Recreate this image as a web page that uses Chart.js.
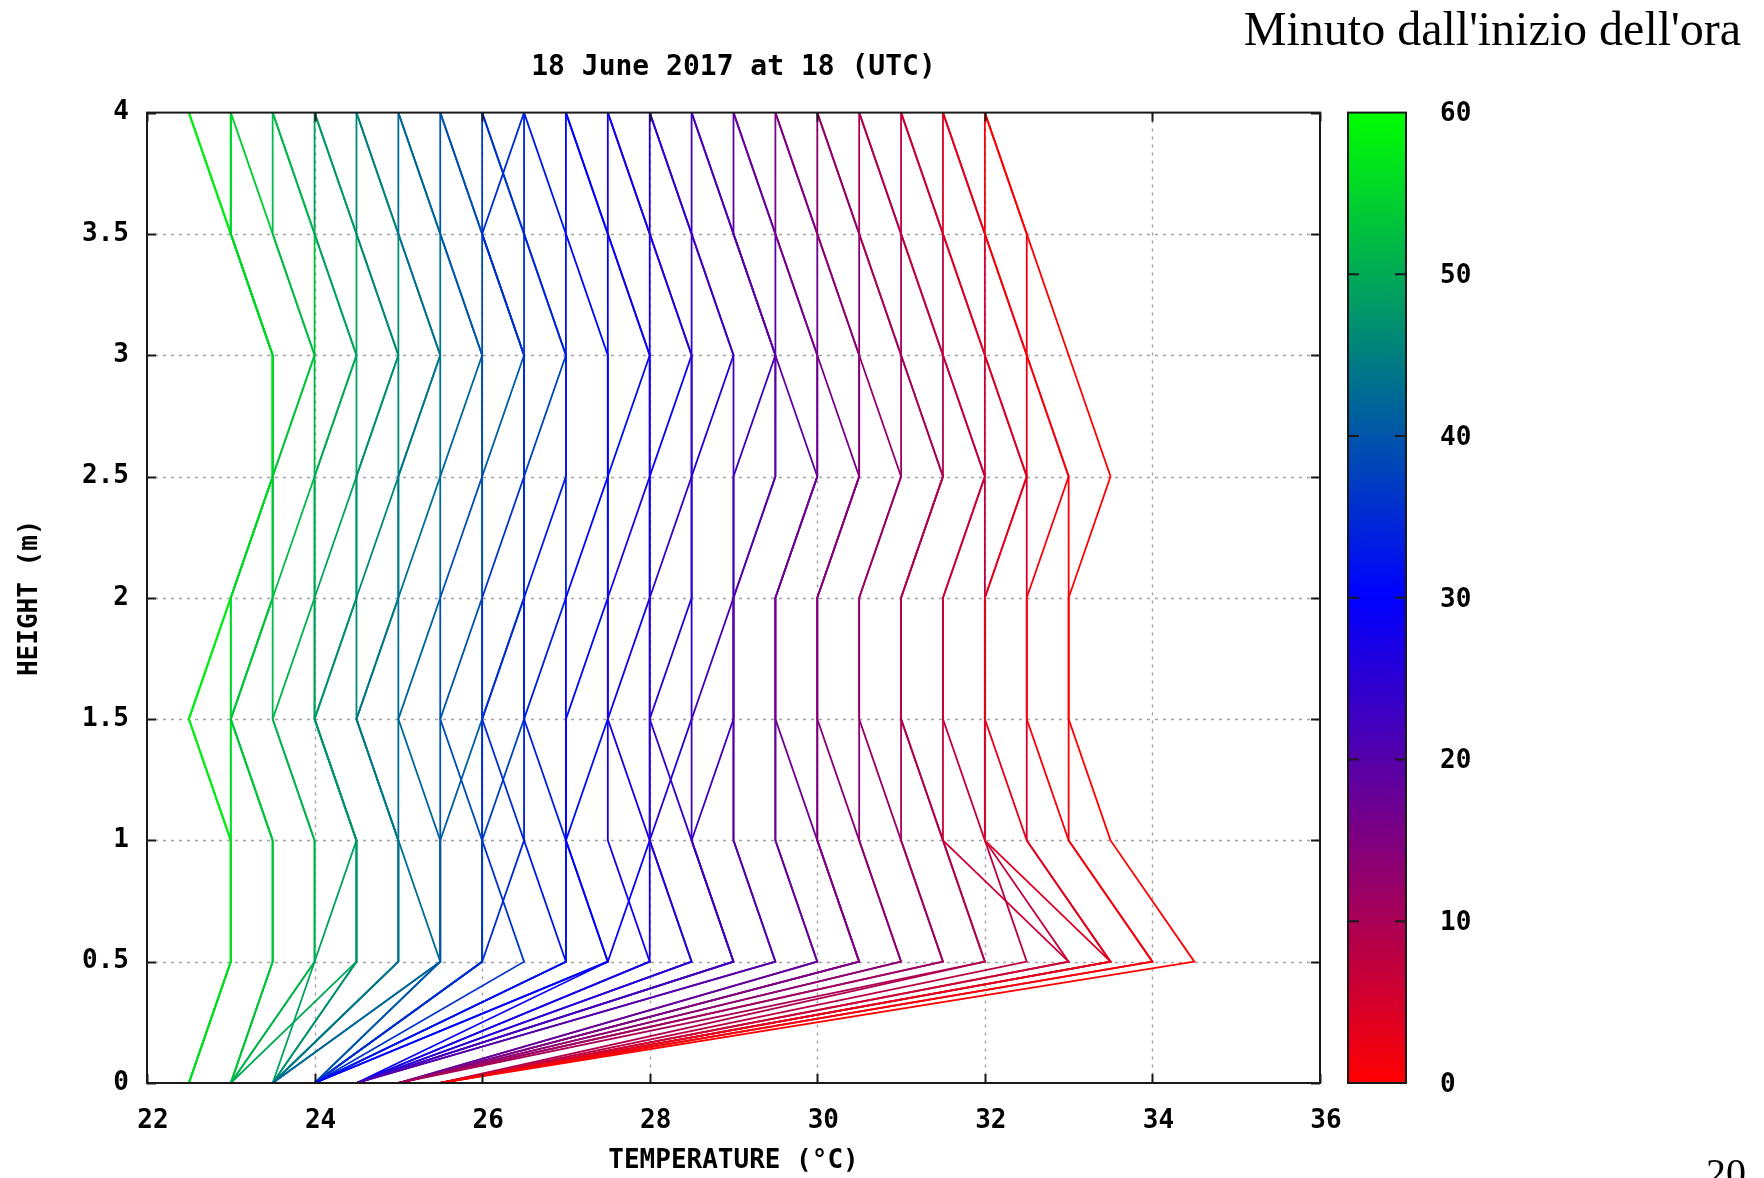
<!DOCTYPE html>
<html>
<head>
<meta charset="utf-8">
<script src="https://cdn.jsdelivr.net/npm/chart.js@4.4.1/dist/chart.umd.min.js"></script>
<style>
html,body{margin:0;padding:0;background:#fff;width:1764px;height:1178px;overflow:hidden;}
#wrap{position:absolute;left:0;top:0;width:1764px;height:1178px;}
.serif{position:absolute;font-family:'Liberation Serif','Times New Roman',serif;color:#000;line-height:1;white-space:nowrap;}
</style>
</head>
<body>
<div id="wrap"><canvas id="c" width="1764" height="1178"></canvas></div>
<div class="serif" style="right:23px;top:5px;font-size:48px;">Minuto dall'inizio dell'ora</div>
<div class="serif" style="right:18px;top:1153px;font-size:40px;">20</div>
<script>
// ---- data ----
const heights = [0, 0.5, 1, 1.5, 2, 2.5, 3, 3.5, 4];          // m
const minutes = [0,1,2,3,4,5,6,7,8,9,10,11,12,13,14,15,16,17,18,19,20,
                 21,22,23,24,25,26,27,28,29,30,31,32,33,34,35,36,37,38,39,40,
                 41,42,43,44,45,46,47,48,49,50,51,52,53,54,55,56,57,58,59,60];
// temperature (°C) at heights 0 .. 4 m, one profile per minute
const m00 = [25.5, 34.5, 33.5, 33, 33, 33.5, 33, 32.5, 32];
const m01 = [25.5, 34, 33, 32.5, 32.5, 33, 32.5, 32, 32];
const m02 = [25.5, 34, 33, 33, 33, 33, 32.5, 32.5, 32];
const m03 = [25.5, 33.5, 32.5, 32, 32, 32.5, 32.5, 32, 31.5];
const m04 = [25.5, 33.5, 32, 32, 32, 32.5, 32, 31.5, 31.5];
const m05 = [25.5, 33.5, 32.5, 32.5, 32.5, 32.5, 32, 32, 31.5];
const m06 = [25.5, 33, 31.5, 31.5, 31.5, 32, 32, 31.5, 31];
const m07 = [25.5, 33, 32, 31.5, 31.5, 32, 31.5, 31, 31];
const m08 = [25.5, 32.5, 32, 32, 32, 32, 31.5, 31.5, 31];
const m09 = [25.5, 32, 31.5, 31, 31, 31.5, 31.5, 31, 30.5];
const m10 = [25, 32, 31.5, 31, 31, 31.5, 31, 30.5, 30.5];
const m11 = [25, 31.5, 31, 31, 31, 31.5, 31, 31, 30.5];
const m12 = [25, 31.5, 31, 30.5, 30.5, 31, 31, 30.5, 30];
const m13 = [25, 31, 30.5, 30.5, 30.5, 31, 30.5, 30, 30];
const m14 = [25, 31, 30.5, 30, 30, 30.5, 30.5, 30.5, 30];
const m15 = [25, 30.5, 30, 30, 30, 30.5, 30.5, 30, 29.5];
const m16 = [25, 30.5, 30, 30, 30, 30.5, 30, 29.5, 29.5];
const m17 = [25, 30.5, 30, 29.5, 29.5, 30, 30, 30, 29.5];
const m18 = [25, 30, 29.5, 29.5, 29.5, 30, 30, 29.5, 29];
const m19 = [25, 30, 29.5, 29.5, 29.5, 30, 29.5, 29, 29];
const m20 = [24.5, 29.5, 29, 29, 29, 29.5, 29.5, 29.5, 29];
const m21 = [24.5, 29.5, 29, 29, 29, 29.5, 29.5, 29, 28.5];
const m22 = [24.5, 29, 28.5, 28.5, 29, 29, 29, 28.5, 28.5];
const m23 = [24.5, 29, 28.5, 29, 29, 29, 29.5, 29, 28.5];
const m24 = [24.5, 29, 28.5, 28, 28, 28.5, 28.5, 28.5, 28];
const m25 = [24.5, 28.5, 28, 28, 28.5, 28.5, 28.5, 28, 28];
const m26 = [24.5, 28.5, 28, 28.5, 28.5, 28.5, 29, 28.5, 28];
const m27 = [24.5, 28, 28, 27.5, 27.5, 28, 28, 28, 27.5];
const m28 = [24.5, 28, 27.5, 27.5, 28, 28, 28, 27.5, 27.5];
const m29 = [24.5, 27.5, 28, 28, 28, 28, 28.5, 28, 27.5];
const m30 = [24, 27.5, 27, 27, 27, 27.5, 27.5, 27.5, 27];
const m31 = [24, 27.5, 27, 27, 27.5, 27.5, 27.5, 27, 27];
const m32 = [24, 27, 27, 27.5, 27.5, 27.5, 28, 27.5, 27];
const m33 = [24, 27, 26.5, 26.5, 26.5, 27, 27, 27, 26.5];
const m34 = [24, 27, 27, 26.5, 27, 27, 27, 26.5, 26.5];
const m35 = [24, 26, 26.5, 26, 26.5, 26.5, 26.5, 26, 26.5];
const m36 = [24, 26.5, 26, 26, 26, 26.5, 26.5, 26.5, 26];
const m37 = [24, 26, 26, 26, 26.5, 26.5, 26.5, 26, 26];
const m38 = [24, 26, 26, 26.5, 26.5, 26.5, 27, 26.5, 26];
const m39 = [24, 26, 26, 25.5, 25.5, 26, 26, 26, 25.5];
const m40 = [24, 25.5, 25.5, 25.5, 26, 26, 26, 25.5, 25.5];
const m41 = [24, 25.5, 25.5, 26, 26, 26, 26.5, 26, 25.5];
const m42 = [23.5, 25.5, 25.5, 25, 25.5, 25.5, 26, 25.5, 25];
const m43 = [23.5, 25.5, 25, 25, 25, 25.5, 25.5, 25, 25];
const m44 = [23.5, 25, 25, 24.5, 25, 25, 25.5, 25.5, 25];
const m45 = [23.5, 25, 25, 24.5, 25, 25, 25.5, 25, 24.5];
const m46 = [23.5, 25, 25, 24.5, 24.5, 25, 25, 24.5, 24.5];
const m47 = [23.5, 24.5, 24.5, 24, 24.5, 24.5, 25, 25, 24.5];
const m48 = [23.5, 24.5, 24.5, 24, 24.5, 24.5, 25, 24.5, 24];
const m49 = [23.5, 24, 24.5, 24, 24, 24.5, 24.5, 24, 24];
const m50 = [23, 24.5, 24.5, 24, 24, 24, 24.5, 24.5, 24];
const m51 = [23, 24, 24, 23.5, 24, 24, 24.5, 24, 23.5];
const m52 = [23, 24, 24, 23.5, 23.5, 24, 24, 23.5, 23.5];
const m53 = [23, 23.5, 23.5, 23, 23.5, 23.5, 24, 24, 23.5];
const m54 = [23, 23.5, 23.5, 23, 23.5, 23.5, 24, 23.5, 23];
const m55 = [23, 23.5, 23.5, 23, 23, 23.5, 23.5, 23, 23];
const m56 = [22.5, 23, 23, 23, 23, 23.5, 23.5, 23, 23];
const m57 = [22.5, 23, 23, 23, 23.5, 23.5, 23.5, 23, 23];
const m58 = [22.5, 23, 23, 22.5, 23, 23.5, 23.5, 23, 22.5];
const m59 = [22.5, 23, 23, 22.5, 23, 23.5, 23.5, 23, 22.5];
const m60 = [22.5, 23, 23, 22.5, 23, 23.5, 23.5, 23, 22.5];
const profiles = [m00,m01,m02,m03,m04,m05,m06,m07,m08,m09,m10,m11,m12,m13,m14,m15,m16,m17,m18,m19,m20,
                  m21,m22,m23,m24,m25,m26,m27,m28,m29,m30,m31,m32,m33,m34,m35,m36,m37,m38,m39,m40,
                  m41,m42,m43,m44,m45,m46,m47,m48,m49,m50,m51,m52,m53,m54,m55,m56,m57,m58,m59,m60];

const xTicks = [22, 24, 26, 28, 30, 32, 34, 36];
const yTicks = [0, 0.5, 1, 1.5, 2, 2.5, 3, 3.5, 4];
const yTickLabels = ['0', '0.5', '1', '1.5', '2', '2.5', '3', '3.5', '4'];
const cbTicks = [0, 10, 20, 30, 40, 50, 60];
const cbRange = [0, 60];

const titleText = '18 June 2017 at 18 (UTC)';
const xTitle = 'TEMPERATURE (°C)';
const yTitle = 'HEIGHT (m)';

// ---- style ----
const MONO = "'DejaVu Sans Mono', 'Liberation Mono', monospace";
const labelFont = {family: MONO, weight: 'bold', size: 26, lineHeight: 1.2};

function minuteColor(m) {
  // red (0) -> blue (30) -> green (60), linear RGB
  if (m <= 30) {
    const t = m / 30;
    return 'rgb(' + Math.round(255 * (1 - t)) + ',0,' + Math.round(255 * t) + ')';
  }
  const t = (m - 30) / 30;
  return 'rgb(0,' + Math.round(255 * t) + ',' + Math.round(255 * (1 - t)) + ')';
}

const datasets = profiles.map((p, i) => ({
  label: 'min ' + minutes[i],
  data: heights.map((h, j) => ({x: p[j], y: h})),
  borderColor: minuteColor(minutes[i]),
  backgroundColor: minuteColor(minutes[i]),
  borderWidth: 1.8,
  pointRadius: 0,
  fill: false,
  tension: 0
}));

const framePlugin = {
  id: 'gnuFrame',
  beforeDatasetsDraw(chart) {
    const {ctx, chartArea: a, scales: {x, y}} = chart;
    ctx.save();
    ctx.strokeStyle = '#a2a2a2';
    ctx.lineWidth = 1.4;
    ctx.setLineDash([3, 5]);
    xTicks.forEach(v => {
      if (v <= x.min || v >= x.max) return;
      const px = Math.round(x.getPixelForValue(v)) + 0.5;
      ctx.beginPath(); ctx.moveTo(px, a.top); ctx.lineTo(px, a.bottom); ctx.stroke();
    });
    yTicks.forEach(v => {
      if (v <= y.min || v >= y.max) return;
      const py = Math.round(y.getPixelForValue(v)) + 0.5;
      ctx.beginPath(); ctx.moveTo(a.left, py); ctx.lineTo(a.right, py); ctx.stroke();
    });
    ctx.restore();
  },
  afterDatasetsDraw(chart) {
    const {ctx, chartArea: a, scales: {x, y}} = chart;
    ctx.save();
    ctx.setLineDash([]);
    ctx.strokeStyle = '#1a1a1a';
    ctx.lineWidth = 2;
    const TL = 9;
    // inward tick marks
    ctx.beginPath();
    xTicks.forEach(v => {
      const px = Math.round(x.getPixelForValue(v)) + 0.5;
      ctx.moveTo(px, a.bottom); ctx.lineTo(px, a.bottom - TL);
      ctx.moveTo(px, a.top); ctx.lineTo(px, a.top + TL);
    });
    yTicks.forEach(v => {
      const py = Math.round(y.getPixelForValue(v)) + 0.5;
      ctx.moveTo(a.left, py); ctx.lineTo(a.left + TL, py);
      ctx.moveTo(a.right, py); ctx.lineTo(a.right - TL, py);
    });
    ctx.stroke();
    ctx.strokeRect(a.left, a.top, a.right - a.left, a.bottom - a.top);

    // colour box
    const cbL = a.right + 28, cbW = 58;
    const g = ctx.createLinearGradient(0, a.bottom, 0, a.top);
    g.addColorStop(0, minuteColor(0));
    g.addColorStop(0.5, minuteColor(30));
    g.addColorStop(1, minuteColor(60));
    ctx.fillStyle = g;
    ctx.fillRect(cbL, a.top, cbW, a.bottom - a.top);
    ctx.strokeRect(cbL, a.top, cbW, a.bottom - a.top);
    ctx.fillStyle = '#000';
    ctx.font = 'bold 26px ' + MONO;
    ctx.textAlign = 'left';
    ctx.textBaseline = 'middle';
    ctx.beginPath();
    cbTicks.forEach(v => {
      const py = a.bottom - (v - cbRange[0]) / (cbRange[1] - cbRange[0]) * (a.bottom - a.top);
      if (v > cbRange[0] && v < cbRange[1]) {
        ctx.moveTo(cbL, py); ctx.lineTo(cbL + 11, py);
        ctx.moveTo(cbL + cbW, py); ctx.lineTo(cbL + cbW - 11, py);
      }
      ctx.fillText(String(v), cbL + 92, py + 2);
    });
    ctx.stroke();
    ctx.restore();
  }
};

new Chart(document.getElementById('c'), {
  type: 'line',
  data: {datasets},
  plugins: [framePlugin],
  options: {
    responsive: false,
    animation: false,
    devicePixelRatio: 1,
    layout: {padding: {left: 0, top: 51, right: 444, bottom: 0}},
    plugins: {
      legend: {display: false},
      tooltip: {enabled: false},
      title: {
        display: true,
        text: titleText,
        fullSize: false,
        color: '#000',
        font: {family: MONO, weight: 'bold', size: 28, lineHeight: 1.2},
        padding: {top: 0, bottom: 28}
      }
    },
    scales: {
      x: {
        type: 'linear',
        min: 22, max: 36,
        afterBuildTicks: s => { s.ticks = xTicks.map(v => ({value: v})); },
        afterFit: s => { s.height = 95; },
        grid: {display: false},
        border: {display: false},
        ticks: {
          font: labelFont, color: '#000', padding: 15, labelOffset: 6,
          maxRotation: 0, autoSkip: false,
          callback: v => String(v)
        },
        title: {display: true, text: xTitle, color: '#000', font: labelFont, padding: {top: 0, bottom: 1}}
      },
      y: {
        type: 'linear',
        min: 0, max: 4,
        afterBuildTicks: s => { s.ticks = yTicks.map(v => ({value: v})); },
        afterFit: s => { s.width = 147; },
        grid: {display: false},
        border: {display: false},
        ticks: {
          font: labelFont, color: '#000', padding: 10, autoSkip: false,
          callback: v => yTickLabels[yTicks.indexOf(v)]
        },
        title: {display: true, text: yTitle, color: '#000', font: labelFont, padding: {top: 15, bottom: 0}}
      }
    }
  }
});
</script>
</body>
</html>
